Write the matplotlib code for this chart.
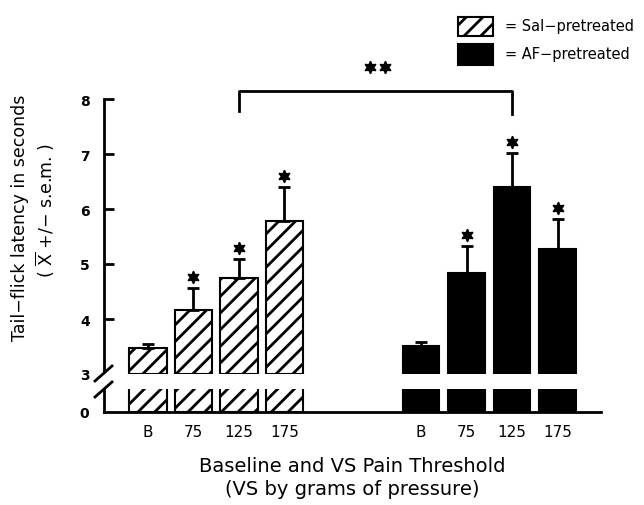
import numpy as np
import matplotlib
matplotlib.use('Agg')
import matplotlib.pyplot as plt
from matplotlib.patches import Rectangle
from matplotlib.lines import Line2D

plt.rcParams['font.family'] = ['DejaVu Sans']
plt.rcParams['mathtext.fontset'] = 'dejavusans'
plt.rcParams['hatch.linewidth'] = 2.0

# data
doses = ['B', '75', '125', '175']
salMeans = [3.47, 4.16, 4.75, 5.78]
salSem = [0.08, 0.40, 0.34, 0.62]
afMeans = [3.51, 4.84, 6.40, 5.27]
afSem = [0.07, 0.49, 0.62, 0.55]
salSig = [False, True, True, True]
afSig = [False, True, True, True]

salPos = np.arange(4)
afPos = np.arange(4) + 6

fig = plt.figure(figsize=(6.44, 5.06), dpi=100)
W, H = 644.0, 506.0

def figRect(x0, y0, x1, y1):
    # pixel box (top-left origin) -> figure fraction
    return [x0 / W, 1 - y1 / H, (x1 - x0) / W, (y1 - y0) / H]

axTop = fig.add_axes(figRect(104, 100, 601, 375))
axBot = fig.add_axes(figRect(104, 390, 601, 413))

xlo, xhi = -0.967, 9.956
for ax in (axTop, axBot):
    ax.set_xlim(xlo, xhi)
    ax.patch.set_alpha(0)
    ax.spines['top'].set_visible(False)
    ax.spines['right'].set_visible(False)
    ax.spines['left'].set_linewidth(2)
    ax.spines['bottom'].set_linewidth(2)

axTop.set_ylim(3, 8)
axBot.set_ylim(0, 3)
axTop.spines['bottom'].set_visible(False)
axTop.spines['left'].set_bounds(3.055, 8)

# bars
for ax, bottom in ((axTop, 3), (axBot, 0)):
    ax.bar(salPos, np.array(salMeans) - bottom, bottom=bottom, width=0.83,
           facecolor='white', edgecolor='black', linewidth=1.5, hatch='//')
    ax.bar(afPos, np.array(afMeans) - bottom, bottom=bottom, width=0.8,
           facecolor='black', edgecolor='black', linewidth=1.5)

# error bars (upper only)
axTop.errorbar(salPos, salMeans, yerr=[np.zeros(4), salSem], fmt='none',
               ecolor='black', elinewidth=2, capsize=4, capthick=2)
axTop.errorbar(afPos, afMeans, yerr=[np.zeros(4), afSem], fmt='none',
               ecolor='black', elinewidth=2, capsize=4, capthick=2)

# significance stars
for pos, m, s, sig in zip(list(salPos) + list(afPos), salMeans + afMeans,
                          salSem + afSem, salSig + afSig):
    if sig:
        axTop.plot(pos, m + s + 0.2, marker=(6, 1, 0), color='black',
                   markersize=9, clip_on=False)

# bracket between the two 125 bars
axTop.plot([2, 2, 8, 8], [7.78, 8.145, 8.145, 7.73], color='black',
           linewidth=2, clip_on=False)
axTop.plot([4.88, 5.2], [8.58, 8.58], linestyle='none', marker=(6, 1, 0),
           color='black', markersize=9, clip_on=False)

# y ticks
axTop.set_yticks([3, 4, 5, 6, 7, 8])
axTop.set_yticklabels(['3', '4', '5', '6', '7', '8'], fontweight='bold', fontsize=10)
axTop.tick_params(axis='y', direction='in', length=7, width=2, pad=10)
axTop.yaxis.get_major_ticks()[0].tick1line.set_visible(False)
axTop.set_xticks([])

axBot.set_yticks([0])
axBot.set_yticklabels(['0'], fontweight='bold', fontsize=10)
axBot.tick_params(axis='y', length=0, pad=11)
axBot.set_xticks(list(salPos) + list(afPos))
axBot.set_xticklabels(doses + doses, fontsize=11)
axBot.tick_params(axis='x', length=0, pad=9)

# axis break marks
for y0 in (382, 398):
    fig.add_artist(Line2D([95 / W, 112 / W], [1 - y0 / H, 1 - (y0 - 15) / H],
                          transform=fig.transFigure, color='black', linewidth=2))

# axis titles
fig.text(352 / W, 1 - 467 / H, 'Baseline and VS Pain Threshold',
         ha='center', va='center', fontsize=14)
fig.text(352 / W, 1 - 490 / H, '(VS by grams of pressure)',
         ha='center', va='center', fontsize=14)
fig.text(20 / W, 1 - 218 / H, 'Tail\u2212flick latency in seconds',
         ha='center', va='center', rotation=90, fontsize=12.5)
fig.text(45 / W, 1 - 210 / H, '( $\\overline{\\mathsf{X}}$ +/\u2212 s.e.m. )',
         ha='center', va='center', rotation=90, fontsize=12.5)

# legend
fig.add_artist(Rectangle((458 / W, 1 - 37 / H), 35 / W, 19 / H,
                         transform=fig.transFigure, facecolor='white',
                         edgecolor='black', linewidth=1.5, hatch='//'))
fig.add_artist(Rectangle((458 / W, 1 - 66 / H), 35 / W, 21 / H,
                         transform=fig.transFigure, facecolor='black',
                         edgecolor='black', linewidth=1.5))
fig.text(505 / W, 1 - 27 / H, '= Sal\u2212pretreated', ha='left', va='center', fontsize=10.5)
fig.text(505 / W, 1 - 55 / H, '= AF\u2212pretreated', ha='left', va='center', fontsize=10.5)

fig.savefig('out.png', dpi=100)
